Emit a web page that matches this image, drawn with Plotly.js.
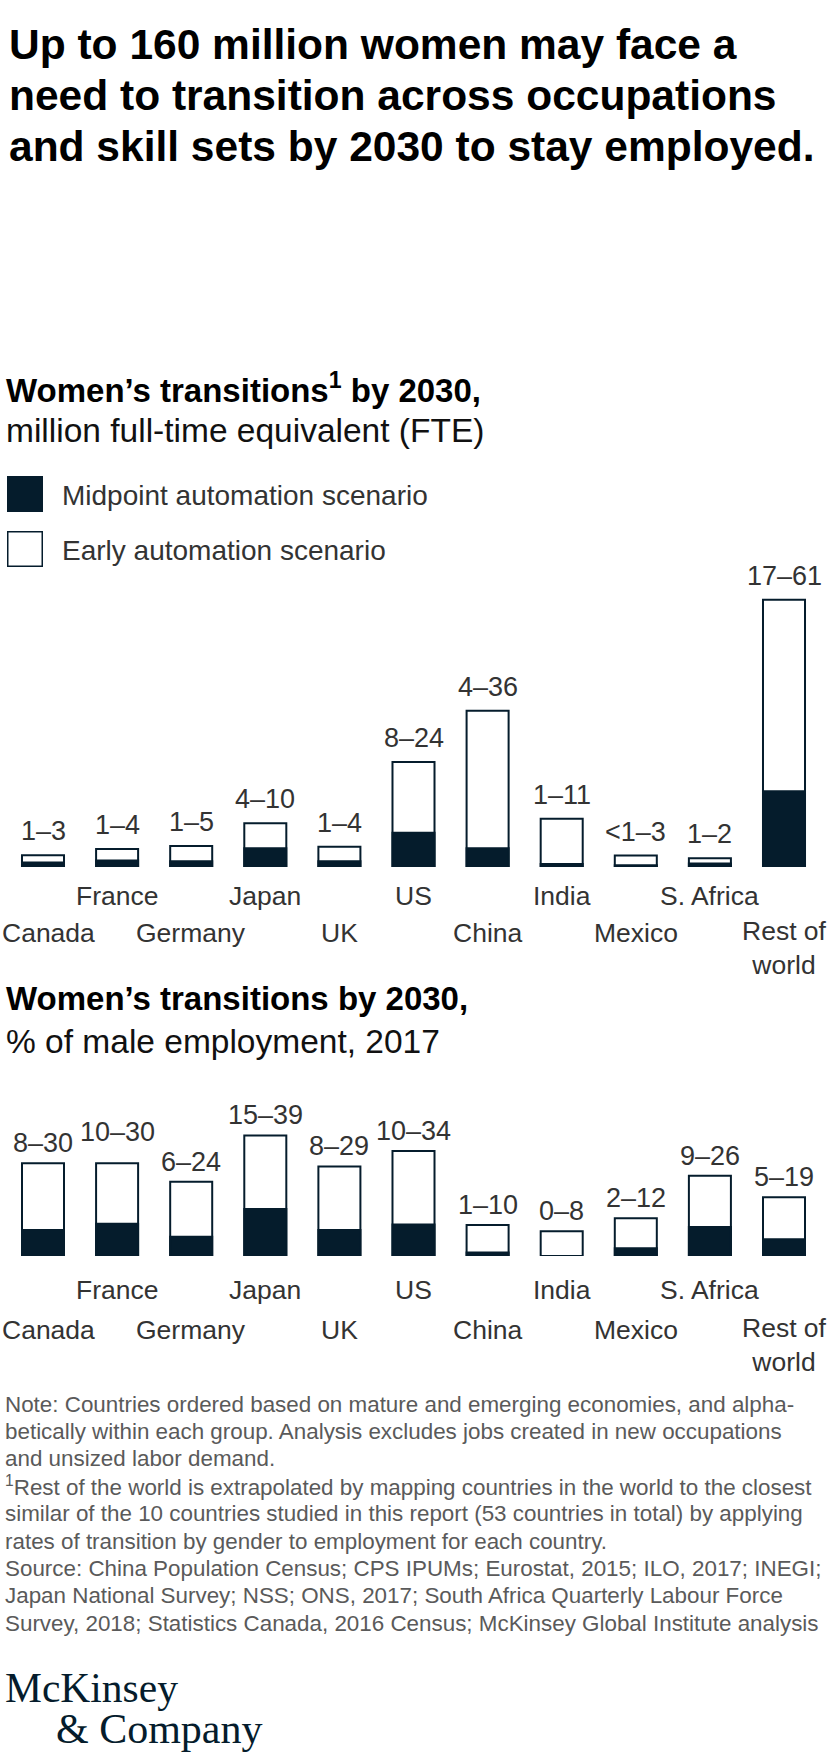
<!DOCTYPE html>
<html><head><meta charset="utf-8">
<script src="https://cdn.plot.ly/plotly-3.0.1.min.js"></script>
<style>html,body{margin:0;padding:0;background:#fff}#chart{width:828px;height:1760px}</style>
</head><body><div id="chart"></div>
<script>
// ---------- data ----------
const countries = ["Canada","France","Germany","Japan","UK","US","China","India","Mexico","S. Africa","Rest of world"];
const categoryLabels = ["Canada","France","Germany","Japan","UK","US","China","India","Mexico","S. Africa","Rest of<br>world"];

// Women's transitions by 2030, million FTE
const fteMidpoint = [1.0, 1.5, 1.3, 4.3, 1.3, 7.8, 4.3, 0.7, 0.4, 0.8, 17.3];
const fteEarly    = [2.7, 4.1, 4.8, 10, 4.6, 24, 35.7, 11, 2.6, 2.0, 61];
const fteLabels   = ["1–3","1–4","1–5","4–10","1–4","8–24","4–36","1–11","<1–3","1–2","17–61"];

// Women's transitions by 2030, % of male employment 2017
const pctMidpoint = [8.4, 10.4, 6.2, 15.2, 8.4, 10.2, 1.1, 0, 2.5, 9.4, 5.4];
const pctEarly    = [30, 30, 24, 39, 29, 34, 10, 8, 12.2, 26, 19];
const pctLabels   = ["8–30","10–30","6–24","15–39","8–29","10–34","1–10","0–8","2–12","9–26","5–19"];

const noteLines = [
  "Note: Countries ordered based on mature and emerging economies, and alpha-",
  "betically within each group. Analysis excludes jobs created in new occupations",
  "and unsized labor demand.",
  "<sup>1</sup>Rest of the world is extrapolated by mapping countries in the world to the closest",
  "similar of the 10 countries studied in this report (53 countries in total) by applying",
  "rates of transition by gender to employment for each country.",
  "Source: China Population Census; CPS IPUMs; Eurostat, 2015; ILO, 2017; INEGI;",
  "Japan National Survey; NSS; ONS, 2017; South Africa Quarterly Labour Force",
  "Survey, 2018; Statistics Canada, 2016 Census; McKinsey Global Institute analysis"
];

// ---------- layout helpers ----------
const W = 828, H = 1760;
const NAVY = '#051C2C';
const FONT = 'Liberation Sans, Arial, Helvetica, sans-serif';
const LABEL = '#333333';
const py = v => 1 - v / H;
const pxX = v => v / W;
const xDom = [pxX(43 - 37.05), pxX(784 + 37.05)];

// chart geometry (px from top)
const c1 = {base: 867, scale: 4.38, max: 66, rowOdd: 896, rowEven: 933, lift: 24};
const c2 = {base: 1256, scale: 3.09, max: 42, rowOdd: 1290, rowEven: 1330, lift: 20};
const labelExtraLift2 = {France: 11};
const edgeShift = {Canada: 5};   // keep the first label inside the page edge
const CAT_SIZE = 26.5;

function yDom(c){ return [py(c.base), py(c.base - c.max * c.scale)]; }

const barW = 0.567;
function bars(early, mid, xa, ya){
  return [
    {type:'bar', x: countries, y: early, xaxis: xa, yaxis: ya, width: barW,
     marker:{color:'#ffffff', line:{color:NAVY, width:2}}, hoverinfo:'skip'},
    {type:'bar', x: countries, y: mid, xaxis: xa, yaxis: ya, width: barW,
     marker:{color:NAVY, line:{color:NAVY, width:2}}, hoverinfo:'skip'}
  ];
}
const data = [...bars(fteEarly, fteMidpoint, 'x', 'y'), ...bars(pctEarly, pctMidpoint, 'x2', 'y2')];

const ann = [];
function txt(text, xpx, ypx, size, color, family){
  ann.push({text, x: pxX(xpx), y: py(ypx), xref:'paper', yref:'paper',
    xanchor:'left', yanchor:'middle', showarrow:false,
    font:{family: family || FONT, size, color: color || '#000'}});
}

// headline
["Up to 160 million women may face a",
 "need to transition across occupations",
 "and skill sets by 2030 to stay employed."].forEach((l,i)=>
  txt('<b>'+l+'</b>', 7, 45 + i*50.5, 42.5));

// chart 1 titles + legend
txt('<b>Women’s transitions<sup>1</sup> by 2030,</b>', 4, 388, 33);
txt('million full-time equivalent (FTE)', 4, 430, 33.5, '#111');
txt('Midpoint automation scenario', 60, 496, 28, LABEL);
txt('Early automation scenario', 60, 551, 28, LABEL);

// chart 2 titles
txt('<b>Women’s transitions by 2030,</b>', 4, 998, 33);
txt('% of male employment, 2017', 4, 1041, 33.5, '#111');

// value labels + category labels
function chartText(c, vals, labels, xa, ya, extra){
  countries.forEach((cn, i)=>{
    ann.push({text: labels[i], x: cn, y: vals[i], xref: xa, yref: ya,
      xanchor:'center', yanchor:'middle', yshift: c.lift + ((extra||{})[cn]||0),
      showarrow:false, font:{family:FONT, size:27, color:LABEL}});
    const row = (i % 2 === 1) ? c.rowOdd : c.rowEven;
    const nLines = categoryLabels[i].split('<br>').length;
    ann.push({text: categoryLabels[i], x: cn, xref: xa, yref:'paper',
      y: py(row + (nLines - 1) * CAT_SIZE * 1.3 / 2 - (nLines - 1) * 2),
      xanchor:'center', yanchor:'middle', showarrow:false, xshift: edgeShift[cn] || 0,
      font:{family:FONT, size:CAT_SIZE, color:LABEL}});
  });
}
chartText(c1, fteEarly, fteLabels, 'x', 'y');
chartText(c2, pctEarly, pctLabels, 'x2', 'y2', labelExtraLift2);

// notes
noteLines.forEach((l,i)=> txt(l, 3, 1404 + i*27.4, 22.4, '#5a5a5a'));

// logo
const SERIF = 'Liberation Serif, Times New Roman, serif';
txt('McKinsey', 3, 1688, 41.5, NAVY, SERIF);
txt('&amp; Company', 54, 1729, 42, NAVY, SERIF);

const shapes = [
  {type:'rect', xref:'paper', yref:'paper', x0:pxX(7), x1:pxX(43), y0:py(512), y1:py(476),
   fillcolor:NAVY, line:{width:0}},
  {type:'rect', xref:'paper', yref:'paper', x0:pxX(7.75), x1:pxX(42.25), y0:py(566.25), y1:py(531.75),
   fillcolor:'#fff', line:{color:NAVY, width:1.5}}
];

const axisX = {domain: xDom, range:[-0.5, 10.5], type:'category', showgrid:false, zeroline:false,
  showline:false, showticklabels:false, ticks:'', fixedrange:true};
const axisY = (c)=>({domain: yDom(c), range:[0, c.max], showgrid:false, zeroline:false,
  showline:false, showticklabels:false, ticks:'', fixedrange:true});

const layout = {
  width: W, height: H, margin:{l:0,r:0,t:0,b:0}, showlegend:false,
  paper_bgcolor:'#fff', plot_bgcolor:'rgba(0,0,0,0)', barmode:'overlay',
  font:{family:FONT, color:LABEL},
  xaxis: Object.assign({}, axisX, {anchor:'y'}),
  yaxis: Object.assign(axisY(c1), {anchor:'x'}),
  xaxis2: Object.assign({}, axisX, {anchor:'y2'}),
  yaxis2: Object.assign(axisY(c2), {anchor:'x2'}),
  annotations: ann, shapes
};
Plotly.newPlot('chart', data, layout, {staticPlot:true, displayModeBar:false});
</script></body></html>
